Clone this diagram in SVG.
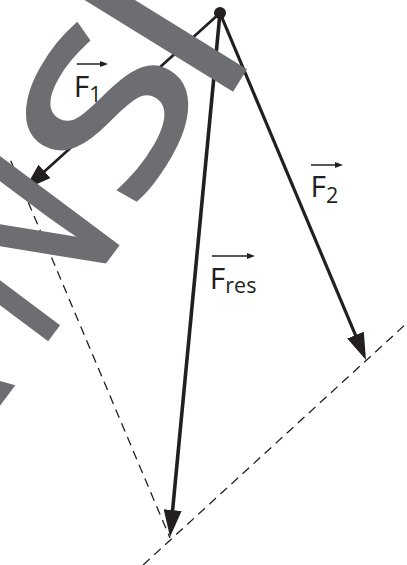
<svg xmlns="http://www.w3.org/2000/svg" width="407" height="565" viewBox="0 0 407 565">
<defs>
<style>
.vec{stroke:#231f20;fill:none;stroke-linecap:butt}
.dash{stroke:#231f20;stroke-width:1.3;stroke-dasharray:9 6;fill:none}
.lbl{font-family:"Open Sans","DejaVu Sans",sans-serif;font-size:30px;fill:#231f20}
.sub{font-size:21.5px}
.small{stroke:#231f20;stroke-width:1.5;fill:none}
.wm{font-family:"Open Sans","DejaVu Sans",sans-serif;font-size:259px;fill:#6d6e71;stroke:#6d6e71;stroke-width:5;text-anchor:middle}
</style>
<marker id="head" markerUnits="userSpaceOnUse" markerWidth="27" markerHeight="18" refX="17" refY="9" orient="auto" viewBox="0 0 27 18"><path d="M0,0 L27,9 L0,18 z" fill="#231f20"/></marker>
<marker id="shead" markerUnits="userSpaceOnUse" markerWidth="8" markerHeight="6" refX="2" refY="3" orient="auto" viewBox="0 0 8 6"><path d="M0,0 L8,3 L0,6 z" fill="#231f20"/></marker>
</defs>
<rect width="407" height="565" fill="#fff"/>
<g id="connectors">
<line class="dash" x1="10.7" y1="160.7" x2="170" y2="538"/>
<line class="dash" x1="143" y1="565" x2="407" y2="323"/>
<line id="F1-vec" class="vec" stroke-width="2.7" x1="220" y1="13" x2="31.9" y2="182.8" marker-end="url(#head)"/>
<line id="F2-vec" class="vec" stroke-width="3.2" x1="220" y1="13" x2="362.1" y2="350.8" marker-end="url(#head)"/>
<line id="Fres-vec" class="vec" stroke-width="3.6" x1="220" y1="13" x2="171" y2="527" marker-end="url(#head)"/>
</g>
<g id="origin"><circle cx="220" cy="13" r="6" fill="#231f20"/></g>
<g id="label-F1">
<line class="small" x1="76.7" y1="64" x2="102" y2="64" marker-end="url(#shead)"/>
<text class="lbl" x="73.8" y="96.7">F<tspan class="sub" dy="5">1</tspan></text>
</g>
<g id="label-F2">
<line class="small" x1="311" y1="165" x2="337" y2="165" marker-end="url(#shead)"/>
<text class="lbl" x="310.4" y="196.7">F<tspan class="sub" dy="6">2</tspan></text>
</g>
<g id="label-Fres">
<line class="small" x1="212" y1="256" x2="249" y2="256" marker-end="url(#shead)"/>
<text class="lbl" x="209.8" y="289.3">F<tspan class="sub" dy="4">res</tspan></text>
</g>
<g id="watermark">
<text class="wm" transform="rotate(-53.3)" x="-385" y="240">A</text>
<text class="wm" transform="rotate(-53.3) translate(-185,240) scale(0.8,1)">N</text>
<text class="wm" style="stroke-width:8" transform="rotate(-7 120 120) translate(6 -8) rotate(-53.3) translate(-32.4,225.7) scale(1.05,0.8)">S</text>
<text class="wm" transform="rotate(-58.3)" x="57.8" y="244">I</text>
<text class="wm" transform="rotate(-53.3)" y="240"><tspan x="232">O</tspan><tspan x="362">N</tspan></text>
</g>
</svg>
